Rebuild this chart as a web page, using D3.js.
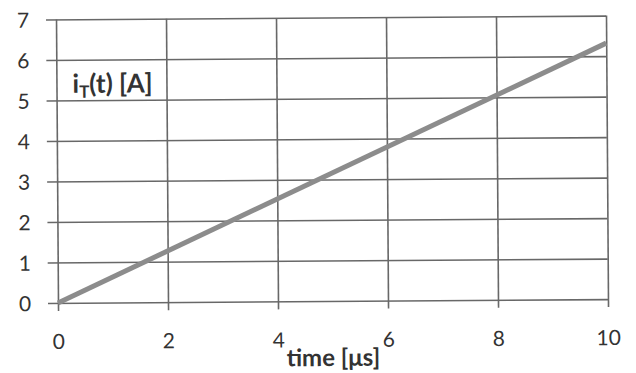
<!DOCTYPE html>
<html>
<head>
<meta charset="utf-8">
<script src="https://cdn.jsdelivr.net/npm/d3@7"></script>
<style>
  body { margin: 0; background: #fff; }
  svg { display: block; }
  text { font-family: Lato, "Open Sans", sans-serif; fill: #333; }
</style>
</head>
<body>
<script>
// data
var timeVals = [0, 10];
var currentVals = [0, 6.32];
var xTicks = [0, 2, 4, 6, 8, 10];
var yTicks = [0, 1, 2, 3, 4, 5, 6, 7];

var W = 636, H = 373;
var pLeft = 57, pRight = 607, pTop = 17.5, pBottom = 301;

var svg = d3.select("body").append("svg")
    .attr("width", W)
    .attr("height", H);

// scanned page is a little tilted
var g = svg.append("g")
    .attr("transform", "rotate(-0.4, 332, 160)");

var x = d3.scaleLinear().domain([0, 10]).range([pLeft, pRight]);
var y = d3.scaleLinear().domain([0, 7]).range([pBottom, pTop]);

// horizontal grid + y labels
var yAxis = g.append("g")
    .attr("transform", "translate(" + (pLeft - 10) + ",0)")
    .call(d3.axisLeft(y).tickValues(yTicks).tickFormat(d3.format("d")).tickSize(-(pRight - pLeft + 10)).tickPadding(0));
yAxis.select(".domain").remove();
yAxis.selectAll("line").attr("stroke", "#686868").attr("stroke-width", 1.6);
yAxis.selectAll("text")
    .attr("x", 24 - (pLeft - 10))
    .attr("text-anchor", "middle")
    .attr("dy", "0.36em")
    .style("font-size", "21px")
    .style("font-family", "Lato, sans-serif")
    .attr("fill", "#333");

// vertical grid + x labels
var xAxis = g.append("g")
    .attr("transform", "translate(0," + (pBottom + 8) + ")")
    .call(d3.axisBottom(x).tickValues(xTicks).tickFormat(d3.format("d")).tickSize(-(pBottom + 8 - pTop)).tickPadding(0));
xAxis.select(".domain").remove();
xAxis.selectAll("line").attr("stroke", "#686868").attr("stroke-width", 1.6);
xAxis.selectAll("text")
    .attr("y", 38)
    .attr("dy", 0)
    .style("font-size", "21px")
    .style("font-family", "Lato, sans-serif")
    .attr("fill", "#333");

// the current ramp
var line = d3.line()
    .x(function (d, i) { return x(timeVals[i]); })
    .y(function (d) { return y(d); });
g.append("path")
    .datum(currentVals)
    .attr("d", line)
    .attr("fill", "none")
    .attr("stroke", "#8c8c8c")
    .attr("stroke-width", 5);

// labels
var yl = g.append("text")
    .attr("x", 73)
    .attr("y", 91)
    .style("font-size", "26px")
    .style("font-weight", "bold")
    .attr("fill", "#222");
yl.append("tspan").text("i");
yl.append("tspan").attr("dy", 5).style("font-size", "17px").text("T");
yl.append("tspan").attr("dy", -5).text("(t) [A]");

g.append("text")
    .attr("x", 332)
    .attr("y", 366)
    .attr("text-anchor", "middle")
    .style("font-size", "24px")
    .style("font-weight", "bold")
    .attr("fill", "#222")
    .text("time [\u03bcs]");
</script>
</body>
</html>
